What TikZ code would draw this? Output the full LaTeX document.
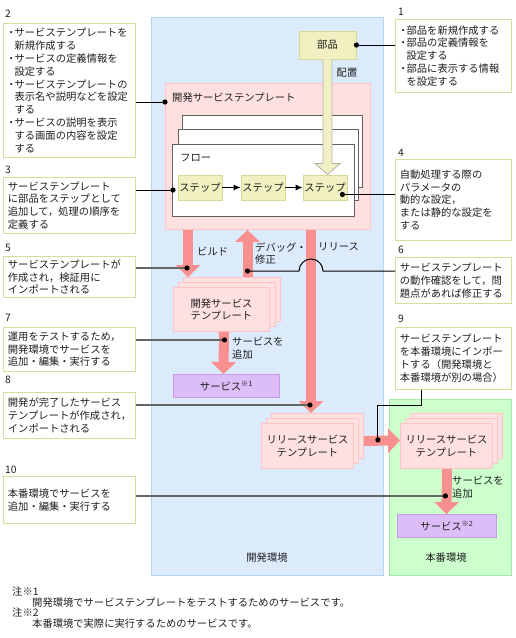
\documentclass[tikz,border=0pt]{standalone}
\usepackage{fontspec}
\setmainfont{Noto Sans CJK JP}
\usetikzlibrary{arrows.meta,calc}
\definecolor{envblue}{HTML}{DCEBFC}
\definecolor{envblueb}{HTML}{B5D3F3}
\definecolor{envgreen}{HTML}{CCFFCC}
\definecolor{envgreenb}{HTML}{A3E8A3}
\definecolor{tplfill}{HTML}{FFE0E0}
\definecolor{tplb}{HTML}{FFC4C4}
\definecolor{arrcol}{HTML}{F89090}
\definecolor{partfill}{HTML}{F0F0C0}
\definecolor{partb}{HTML}{D8D898}
\definecolor{palefill}{HTML}{F0F0C4}
\definecolor{paleb}{HTML}{B4B4A4}
\definecolor{svcfill}{HTML}{DCBDF8}
\definecolor{svcb}{HTML}{C39BE8}
\definecolor{callb}{HTML}{DCDC9A}
\definecolor{leadgray}{HTML}{666666}
\definecolor{flowb}{HTML}{606060}
\newcommand\mysz{\fontsize{10.3pt}{12.8pt}\selectfont}
\newcommand\bul{\makebox[0.65em][c]{・}}
\newcommand\bind{\hspace*{0.65em}}
\begin{document}
\begin{tikzpicture}[x=1pt,y=-1pt,
  every node/.style={font=\mysz, text=black!88},
  sz/.style 2 args={minimum width=#1pt, minimum height=#2pt, anchor=north west, inner sep=0pt},
  env/.style={line width=0.9pt},
  tpl/.style={fill=tplfill, draw=tplb, line width=0.9pt},
  flowbox/.style={fill=white, draw=flowb, line width=1.1pt},
  stepbox/.style={fill=partfill, draw=partb, line width=0.9pt, minimum width=44pt, minimum height=25pt, inner sep=0pt},
  svcbox/.style={fill=svcfill, draw=svcb, line width=0.9pt},
  callout/.style={draw=callb, fill=white, line width=0.8pt, anchor=north west, align=left, inner xsep=4.5pt, inner ysep=2pt},
  num/.style={anchor=west, inner sep=0pt},
  lbl/.style={anchor=west, align=left, inner sep=0pt},
  bigarr/.style={draw=arrcol, line width=10pt, -{Triangle[length=12pt,width=25pt,line width=0pt]}},
  steparr/.style={draw=black, line width=0.9pt, -{Latex[length=7pt,width=6pt]}},
  palearr/.style={fill=palefill, draw=paleb, line width=0.8pt},
  lead/.style={draw=black, line width=1pt},
  leadg/.style={draw=leadgray, line width=1.2pt},
  dot/.style={fill=black}
]
\useasboundingbox (0,0) rectangle (515,638);

% environments
\node[sz={232}{558}, env, fill=envblue, draw=envblueb] (dev) at (151,17) {};
\node[sz={122}{176}, env, fill=envgreen, draw=envgreenb] (prod) at (389,399) {};
\node (devlbl) at (267,558) {開発環境};
\node (prodlbl) at (446,558) {本番環境};

% part
\node[stepbox, minimum width=57pt, minimum height=28pt] (part) at (327.5,45) {部品};
\node (lplace) at (347,73) {配置};

% development service template
\node[sz={205}{146}, tpl] (devtpl) at (165,83) {};
\node[lbl] (devtpllbl) at (172,98) {開発サービステンプレート};

% flow stack
\node[sz={180}{72}, flowbox] (flowback) at (182,115) {};
\node[sz={180}{71}, flowbox] (flowmid) at (178,129) {};
\node[sz={182}{72}, flowbox] (flowfront) at (172,144) {};
\node[lbl] (flowlbl) at (180,158) {フロー};

% steps
\node[stepbox] (step1) at (200,187.5) {ステップ};
\node[stepbox] (step2) at (263,187.5) {ステップ};
\node[stepbox] (step3) at (325,187.5) {ステップ};
\draw[steparr] (step1) -- (step2);
\draw[steparr] (step2) -- (step3);

% pale arrow part -> step3
\coordinate (pst) at (part.south);
\coordinate (ptip) at (step3.north -| part.south);
\draw[palearr] ($(pst)+(-4.5,0)$) -- ($(ptip)+(-4.5,-11)$) -- ($(ptip)+(-12.5,-11)$) -- (ptip) -- ($(ptip)+(12.5,-11)$) -- ($(ptip)+(4.5,-11)$) -- ($(pst)+(4.5,0)$);

% dev service template stack
\node[sz={97}{44}, tpl] (devback) at (183,277) {};
\node[sz={97}{44}, tpl] (devmid) at (178,282) {};
\node[sz={96}{44}, tpl, align=center] (devfront) at (173,287) {開発サービス\\テンプレート};

% service 1
\node[sz={106}{23}, svcbox] (svc1) at (173,374) {サービス\textsuperscript{※1}};

% release template stack (dev)
\node[sz={92}{45}, tpl] (relback) at (271,413) {};
\node[sz={92}{45}, tpl] (relmid) at (266,418) {};
\node[sz={92}{45}, tpl, align=center] (relfront) at (261,423) {リリースサービス\\テンプレート};

% release template stack (prod)
\node[sz={92}{45}, tpl] (prodback) at (410,413) {};
\node[sz={92}{45}, tpl] (prodmid) at (405,418) {};
\node[sz={92}{45}, tpl, align=center] (prodfront) at (400,423) {リリースサービス\\テンプレート};

% service 2
\node[sz={99}{23}, svcbox] (svc2) at (397,514) {サービス\textsuperscript{※2}};

% big arrows
\coordinate (relx) at ($(devtpl.south west)+(146,0)$);
\draw[bigarr] ($(devtpl.south west)+(23,0)$) -- ($(devback.north west)+(5,0)$);
\draw[bigarr] ($(devback.north west)+(64.5,0)$) -- ($(devtpl.south west)+(82.5,0)$);
\draw[bigarr] (relx) -- ($(relback.north west)+(40,0)$);
\draw[bigarr] ($(devfront.south)+(2.5,0)$) -- ($(svc1.north west)+(50.5,0)$);
\draw[bigarr] ($(relback.south east)+(0,-18)$) -- ($(prodfront.west)+(0,-5.5)$);
\draw[bigarr] ($(prodfront.south)+(0.5,0)$) -- ($(svc2.north west)+(49.5,0)$);

\node[lbl] (lbuild) at (197,251) {ビルド};
\node[lbl] (ldebug) at (255,253.5) {デバッグ・\\修正};
\node[lbl] (lrel) at (318,247) {リリース};
\node[lbl] (ladd1) at (232,348.5) {サービスを\\追加};
\node[lbl] (ladd2) at (452,487) {サービスを\\追加};

% callouts
\node[callout, text width=107pt, minimum height=73pt] (c1) at (395,19) {\bul 部品を新規作成する\\\bul 部品の定義情報を\\\bind 設定する\\\bul 部品に表示する情報\\\bind を設定する};
\node[callout, text width=123pt, minimum height=134pt] (c2) at (3,23) {\bul サービステンプレートを\\\bind 新規作成する\\\bul サービスの定義情報を\\\bind 設定する\\\bul サービステンプレートの\\\bind 表示名や説明などを設定\\\bind する\\\bul サービスの説明を表示\\\bind する画面の内容を設定\\\bind する};
\node[callout, text width=123pt, minimum height=56pt] (c3) at (3,177) {サービステンプレート\\に部品をステップとして\\追加して，処理の順序を\\定義する};
\node[callout, text width=107pt, minimum height=81pt] (c4) at (395,159) {自動処理する際の\\パラメータの\\動的な設定，\\または静的な設定を\\する};
\node[callout, text width=123pt, minimum height=41pt] (c5) at (3,256) {サービステンプレートが\\作成され，検証用に\\インポートされる};
\node[callout, text width=107pt, minimum height=46pt] (c6) at (395,257) {サービステンプレート\\の動作確認をして，問\\題点があれば修正する};
\node[callout, text width=123pt, minimum height=44pt] (c7) at (3,327) {運用をテストするため，\\開発環境でサービスを\\追加・編集・実行する};
\node[callout, text width=123pt, minimum height=46pt] (c8) at (3,392) {開発が完了したサービス\\テンプレートが作成され，\\インポートされる};
\node[callout, text width=107pt, minimum height=62pt] (c9) at (395,327) {サービステンプレート\\を本番環境にインポー\\トする（開発環境と\\本番環境が別の場合）};
\node[callout, text width=123pt, minimum height=47pt] (c10) at (3,476) {本番環境でサービスを\\追加・編集・実行する};

\node[num] (n1) at (398,12) {1};
\node[num] (n2) at (5,14) {2};
\node[num] (n3) at (5,170) {3};
\node[num] (n4) at (398,153) {4};
\node[num] (n5) at (5,248) {5};
\node[num] (n6) at (398,250) {6};
\node[num] (n7) at (5,318) {7};
\node[num] (n8) at (5,380) {8};
\node[num] (n9) at (398,319) {9};
\node[num] (n10) at (5,470) {10};

% leader dots
\coordinate (d1) at (part.east);
\coordinate (d2) at ($(devtpl.north west)+(0,19)$);
\coordinate (d3) at ($(flowfront.north west)+(1,46)$);
\coordinate (d4) at ($(step3.south east)+(-5,-6)$);
\coordinate (d5) at ($(devback.north west)+(4,-9)$);
\coordinate (d6) at ($(devback.north west)+(64.5,-6)$);
\coordinate (d7) at ($(devfront.south)+(3,8)$);
\coordinate (d8) at ($(relback.north west)+(39,-8)$);
\coordinate (d9) at ($(relback.south east)+(14,-19)$);
\coordinate (d10) at ($(prodfront.south)+(-1,27)$);
\coordinate (c9b) at ($(c9.south west)+(26,0)$);

\draw[lead] (d1) -- (d1 -| c1.west);
\draw[lead] (d2) -- (d2 -| c2.east);
\draw[lead] (d3) -- (d3 -| c3.east);
\draw[lead] (d4) -- (d4 -| c4.west);
\draw[leadg] (d5) -- (d5 -| c5.east);
\draw[lead] (d6) -- ($(d6 -| relx)+(-12,0)$) arc[start angle=180,end angle=0,radius=12pt] -- (d6 -| c6.west);
\draw[leadg] (d7) -- (d7 -| c7.east);
\draw[leadg] (d8) -- (d8 -| c8.east);
\draw[lead] (c9b) -- ++(0,16) coordinate (k9) -- (k9 -| d9) -- (d9);
\draw[leadg] (d10) -- (d10 -| c10.east);

\foreach \d in {d1,d2,d3,d4,d5,d6,d7,d8,d9,d10} \fill[dot] (\d) circle[radius=2.6pt];

% notes
\node[lbl] (note1) at (12,592) {注※1};
\node[lbl] (note1t) at (32,603) {開発環境でサービステンプレートをテストするためのサービスです。};
\node[lbl] (note2) at (12,613) {注※2};
\node[lbl] (note2t) at (32,624) {本番環境で実際に実行するためのサービスです。};
\end{tikzpicture}
\end{document}
